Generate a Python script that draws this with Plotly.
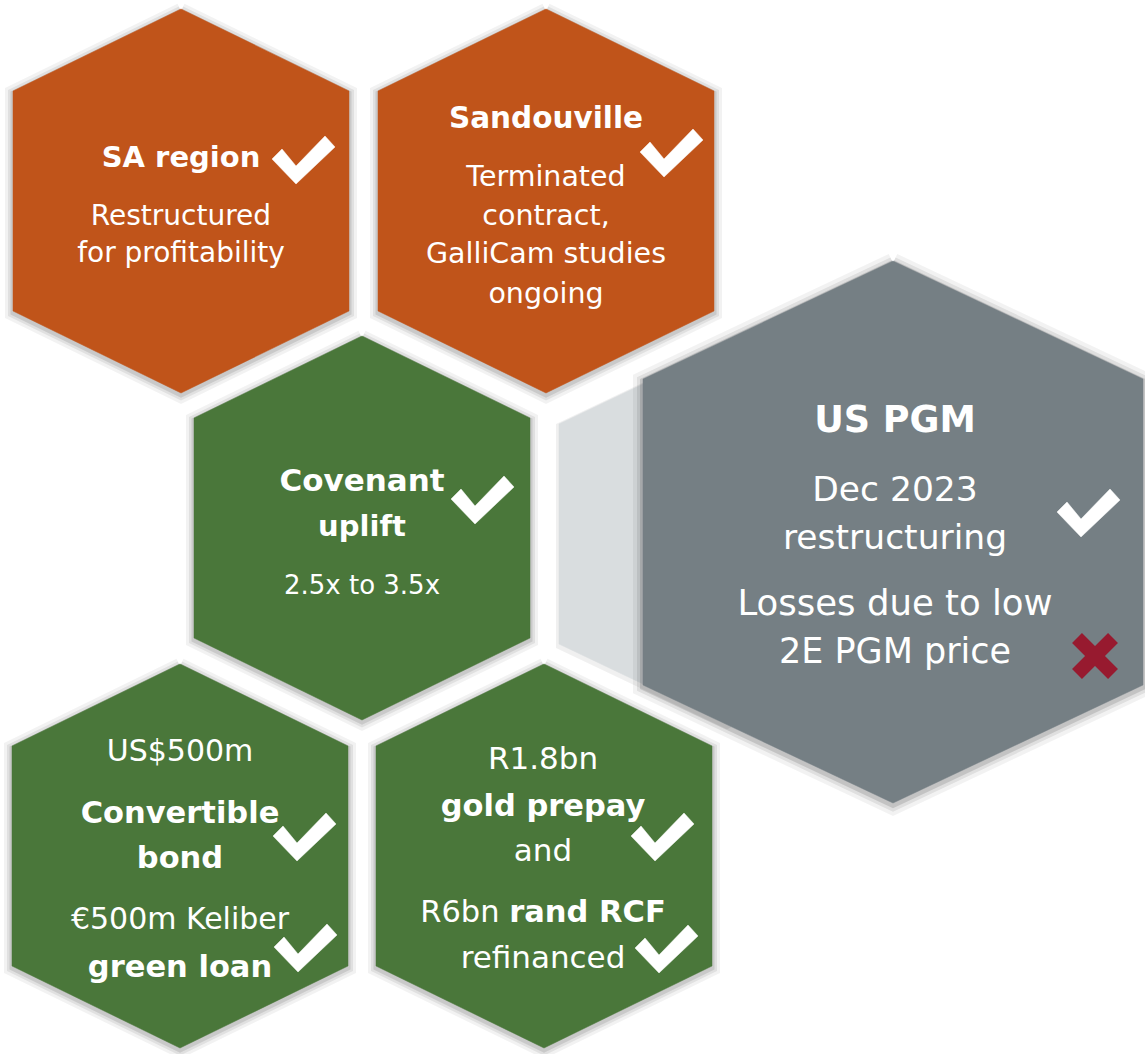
import plotly.graph_objects as go

# ---------------- content ----------------
sa_lines = ["<b>SA region</b>", "Restructured", "for profitability"]
sandouville_lines = ["<b>Sandouville</b>", "Terminated", "contract,", "GalliCam studies", "ongoing"]
covenant_lines = ["<b>Covenant</b>", "<b>uplift</b>", "2.5x to 3.5x"]
uspgm_lines = ["<b>US PGM</b>", "Dec 2023", "restructuring", "Losses due to low", "2E PGM price"]
bond_lines = ["US$500m", "<b>Convertible</b>", "<b>bond</b>", "€500m Keliber", "<b>green loan</b>"]
rand_lines = ["R1.8bn", "<b>gold prepay</b>", "and", "R6bn <b>rand RCF</b>", "refinanced"]

# status marks: "check" or "cross"
sa_status = ["check"]
sandouville_status = ["check"]
covenant_status = ["check"]
uspgm_status = ["check", "cross"]
bond_status = ["check", "check"]
rand_status = ["check", "check"]

# ---------------- styling / layout ----------------
W, H = 1145, 1054
FONT = "DejaVu Sans"
ORANGE = "#C0541A"
GREEN = "#4A773A"
GREY = "#757F84"
LIGHT = "#D9DDDF"
RED = "#971A2F"

SMALL = (168, 192, 110)   # half-width, half-height, half side length
BIG = (250, 271, 153)

panels = [
    dict(c=(181, 201), size=SMALL, color=ORANGE, lines=sa_lines, ys=[160, 218, 255],
         fs=[29, 28, 28], tx=181, status=sa_status, marks=[(296, 184)]),
    dict(c=(546, 201), size=SMALL, color=ORANGE, lines=sandouville_lines, ys=[121, 179, 218, 256, 296],
         fs=[29.5, 28.5, 28.5, 28.5, 28.5], tx=546, status=sandouville_status, marks=[(664, 177)]),
    dict(c=(362, 528), size=SMALL, color=GREEN, lines=covenant_lines, ys=[483, 529, 587],
         fs=[31, 29, 26], tx=362, status=covenant_status, marks=[(475, 524)]),
    dict(c=(180, 856), size=SMALL, color=GREEN, lines=bond_lines, ys=[753, 815, 860, 921, 969],
         fs=[30, 30.5, 30.5, 30, 30.5], tx=180, status=bond_status, marks=[(297, 861), (298, 972)]),
    dict(c=(544, 856), size=SMALL, color=GREEN, lines=rand_lines, ys=[761, 808, 853, 914, 960],
         fs=[31, 30.5, 31, 30.5, 31], tx=543, status=rand_status, marks=[(655, 861), (659, 973)]),
]
grey_panel = dict(c=(893, 532), size=BIG, color=GREY, lines=uspgm_lines, ys=[423, 492, 540, 606, 654],
                  fs=[36.5, 34.5, 34.5, 35.5, 35], tx=895, status=uspgm_status, marks=[(1081, 537), (1095, 656)])
connector = dict(c=(727, 534), size=(168, 190, 110), color=LIGHT)

CHECK = [(-24, -25), (-14, -35), (0, -18), (29, -48), (39, -37), (0, 0), (-24, -25)]


def hex_xy(c, size, dx=0, dy=0):
    cx, cy = c[0] + dx, c[1] + dy
    w, h, s = size
    pts = [(cx, cy - h), (cx + w, cy - s), (cx + w, cy + s), (cx, cy + h),
           (cx - w, cy + s), (cx - w, cy - s), (cx, cy - h)]
    return [p[0] for p in pts], [p[1] for p in pts]


fig = go.Figure()


def add_hex(p, shadow=((16, 0.05), (10, 0.07), (5, 0.10))):
    for width, alpha in shadow:
        xs, ys = hex_xy(p["c"], p["size"], 0, 2)
        fig.add_trace(go.Scatter(x=xs, y=ys, mode="lines",
                                 line=dict(color=f"rgba(0,0,0,{alpha})", width=width),
                                 hoverinfo="skip", showlegend=False))
    xs, ys = hex_xy(p["c"], p["size"])
    fig.add_trace(go.Scatter(x=xs, y=ys, mode="lines", fill="toself", fillcolor=p["color"],
                             line=dict(color=p["color"], width=0.5),
                             hoverinfo="skip", showlegend=False))


def add_text_and_marks(p):
    n = len(p["lines"])
    fig.add_trace(go.Scatter(x=[p["tx"]] * n, y=p["ys"], mode="text", text=p["lines"],
                             textposition="middle center",
                             textfont=dict(family=FONT, size=p["fs"], color="white"),
                             hoverinfo="skip", showlegend=False))
    for st, (mx, my) in zip(p["status"], p["marks"]):
        if st == "check":
            fig.add_trace(go.Scatter(x=[mx + q[0] for q in CHECK], y=[my + q[1] for q in CHECK],
                                     mode="lines", fill="toself", fillcolor="white",
                                     line=dict(color="white", width=0.5),
                                     hoverinfo="skip", showlegend=False))
        else:
            for sgn in (1, -1):
                fig.add_trace(go.Scatter(x=[mx - 18, mx + 18], y=[my - 18 * sgn, my + 18 * sgn],
                                         mode="lines", line=dict(color=RED, width=14),
                                         hoverinfo="skip", showlegend=False))


for p in panels[:2]:
    add_hex(p)
add_hex(connector, shadow=((6, 0.06),))
for p in panels[2:]:
    add_hex(p)
add_hex(grey_panel, shadow=((20, 0.05), (12, 0.08), (6, 0.12)))

for p in panels + [grey_panel]:
    add_text_and_marks(p)

fig.update_layout(
    width=W, height=H, margin=dict(l=0, r=0, t=0, b=0),
    paper_bgcolor="white", plot_bgcolor="white", showlegend=False,
    xaxis=dict(range=[0, W], visible=False, fixedrange=True),
    yaxis=dict(range=[H, 0], visible=False, fixedrange=True),
)

fig.write_html("out.html", config={"displayModeBar": False},
               post_script="document.body.style.margin='0';")
